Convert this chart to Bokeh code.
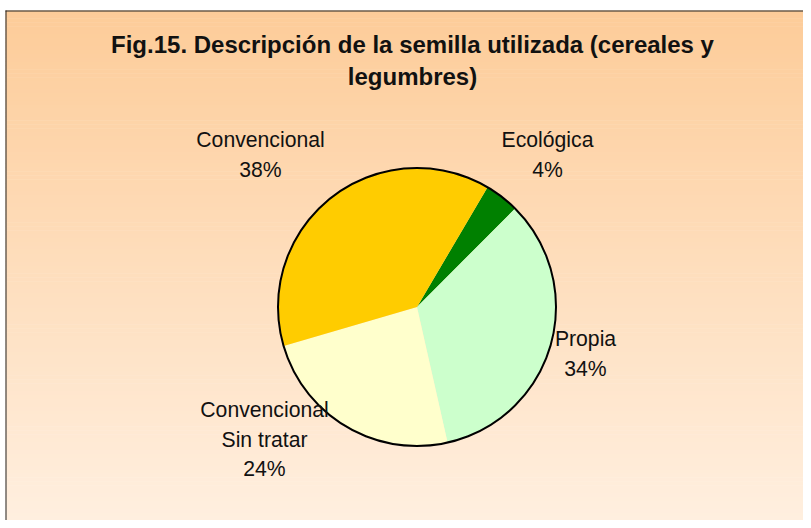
import math
from bokeh.plotting import figure
from bokeh.models import Range1d
from bokeh.embed import file_html
from bokeh.resources import INLINE
from bokeh.core.properties import value

# ---- data ----
categories = ["Ecológica", "Propia", "Convencional\nSin tratar", "Convencional"]
values = [4, 34, 24, 38]
colors = ["#008000", "#CCFFCC", "#FFFFCC", "#FFCC00"]
title_lines = ["Fig.15. Descripción de la semilla utilizada (cereales y", "legumbres)"]

# ---- layout (chart pixel coordinates, origin top-left) ----
W, H = 803, 520


def Y(py):
    return H - py


center = (416.5, 306.5)
radius = 139
start_deg = 30.5  # clockwise from 12 o'clock
label_anchor = [(547, 139), (585, 338), (264, 409), (260, 139)]
line_gap = 29.5
FONT = "Liberation Sans"

p = figure(width=W, height=H, output_backend="svg", toolbar_location=None,
           x_range=Range1d(0, W), y_range=Range1d(0, H),
           x_axis_type=None, y_axis_type=None, min_border=0,
           min_border_left=0, min_border_right=0, min_border_top=0, min_border_bottom=0)
p.grid.visible = False
p.outline_line_color = None
p.background_fill_color = "white"
p.border_fill_color = "white"

# gradient background
fx0, fy0 = 5, 10
top_c = (253, 204, 153)
bot_c = (255, 239, 223)
n = 130
step = (H - fy0) / n
tops, bots, cols = [], [], []
for i in range(n):
    t = i / (n - 1)
    c = tuple(int(round(a + (b - a) * t)) for a, b in zip(top_c, bot_c))
    cols.append("#%02x%02x%02x" % c)
    tops.append(Y(fy0 + i * step))
    bots.append(Y(fy0 + (i + 1) * step) - 0.5)
p.quad(left=[fx0] * n, right=[W] * n, top=tops, bottom=bots,
       fill_color=cols, line_color=None)

# frame border
p.line(x=[fx0 + 0.5, fx0 + 0.5], y=[Y(fy0), 0], line_color="#222222", line_width=1)
p.line(x=[fx0, W], y=[Y(fy0) - 0.5, Y(fy0) - 0.5], line_color="#222222", line_width=1)

# pie
total = float(sum(values))
starts, ends = [], []
cum = 0.0
for v in values:
    ts = start_deg + 360.0 * cum / total
    te = start_deg + 360.0 * (cum + v) / total
    starts.append(math.radians(90 - ts))
    ends.append(math.radians(90 - te))
    cum += v
cx, cy = center
p.wedge(x=[cx] * len(values), y=[Y(cy)] * len(values), radius=radius,
        start_angle=starts, end_angle=ends, direction="clock",
        fill_color=colors, line_color=None)
p.circle(x=[cx], y=[Y(cy)], radius=radius, fill_color=None,
         line_color="black", line_width=2)

# labels
for cat, v, (ax, ay) in zip(categories, values, label_anchor):
    lines = cat.split("\n") + ["%d%%" % v]
    xs = [ax] * len(lines)
    ys = [Y(ay + k * line_gap) for k in range(len(lines))]
    p.text(x=xs, y=ys, text=lines, text_align="center", text_baseline="alphabetic",
           text_font=value(FONT), text_font_size="21.2px", text_color="#111111")

# title
p.text(x=[412, 412], y=[Y(43.5), Y(76)], text=title_lines, text_align="center",
       text_baseline="alphabetic", text_font=value(FONT), text_font_size="24px",
       text_font_style="bold", text_color="#111111")

open("out.html", "w").write(file_html(p, INLINE))
